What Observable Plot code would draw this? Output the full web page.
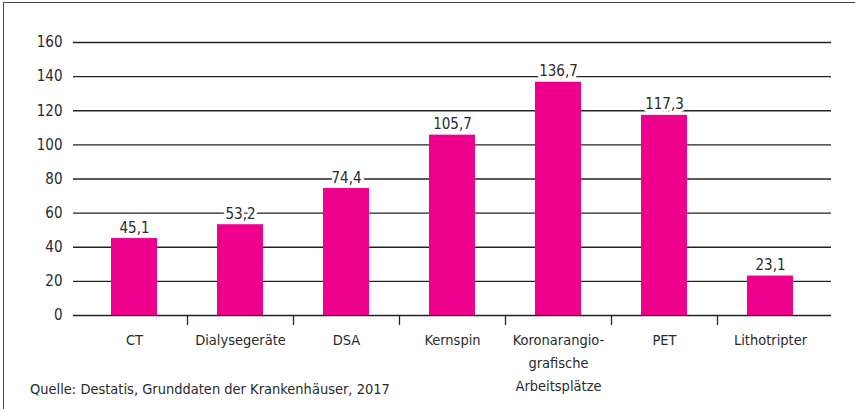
<!DOCTYPE html>
<html>
<head>
<meta charset="utf-8">
<script src="https://cdn.jsdelivr.net/npm/d3@7"></script>
<script src="https://cdn.jsdelivr.net/npm/@observablehq/plot@0.6"></script>
<style>
  html, body { margin: 0; padding: 0; background: #fff; }
  body { width: 855px; height: 409px; position: relative; overflow: hidden;
         font-family: "Liberation Sans Narrow", "DejaVu Sans Condensed", "Liberation Sans", sans-serif; }
  #frame { position: absolute; left: 3px; top: 2px; width: 860px; height: 420px;
           border-left: 1.5px solid #4a4a4a; border-top: 1.5px solid #4a4a4a; pointer-events: none; }
  #chart { position: absolute; left: 0; top: 0; }
  #caption { position: absolute; left: 30px; top: 382px; font-size: 14.5px; line-height: 15px; color: #2a2a2a; }
</style>
</head>
<body>
<div id="chart"></div>
<div id="caption">Quelle: Destatis, Grunddaten der Krankenhäuser, 2017</div>
<div id="frame"></div>
<script>
const categories = ["CT", "Dialysegeräte", "DSA", "Kernspin", "Koronarangio-\ngrafische\nArbeitsplätze", "PET", "Lithotripter"];
const values = [45.1, 53.2, 74.4, 105.7, 136.7, 117.3, 23.1];
const yTicks = [0, 20, 40, 60, 80, 100, 120, 140, 160];

const data = categories.map((c, i) => ({category: c, value: values[i]}));
const fmt = v => v.toFixed(1).replace(".", ",");
const font = '"Liberation Sans Narrow", "DejaVu Sans Condensed", "Liberation Sans", sans-serif';

const chart = Plot.plot({
  width: 855,
  height: 409,
  marginTop: 42,
  marginBottom: 94,
  marginLeft: 73,
  marginRight: 24,
  style: {fontFamily: font, fontSize: "15px", color: "#2a2a2a", background: "transparent"},
  x: {domain: categories, paddingInner: 0.566, paddingOuter: 0.358, label: null},
  y: {domain: [0, 160], ticks: yTicks, label: null},
  marks: [
    Plot.ruleY(yTicks, {stroke: "#222", strokeWidth: 1.3}),
    Plot.barY(data, {x: "category", y: "value", fill: "#EC008C"}),
    Plot.text(data, {x: "category", y: "value", text: d => fmt(d.value), lineAnchor: "bottom", dy: -6,
      fill: "#2a2a2a", stroke: "white", strokeWidth: 6, fontSize: 15}),
    Plot.ruleX(categories.slice(0, -1), {x: d => d, dx: 53, y1: 0, y2: -10 / (273 / 160), stroke: "#222", strokeWidth: 1.3}),
    Plot.axisY({ticks: yTicks, tickSize: 0, tickPadding: 11, label: null, fontSize: 15}),
    Plot.axisX({tickSize: 0, tickPadding: 13, label: null, fontSize: 14.5, lineHeight: 1.6})
  ]
});
document.getElementById("chart").appendChild(chart);
</script>
</body>
</html>
